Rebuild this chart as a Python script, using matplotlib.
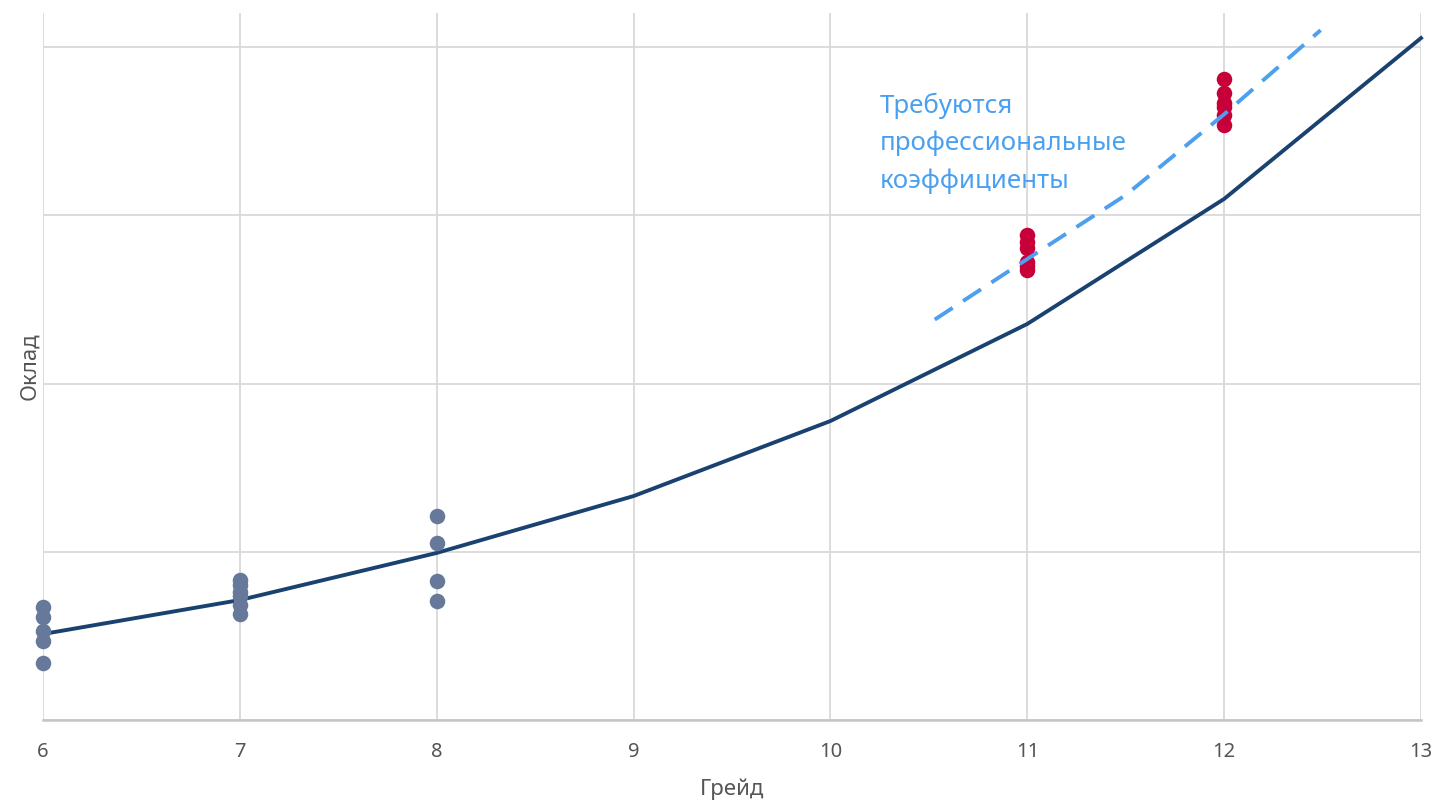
import matplotlib
matplotlib.use("Agg")
import matplotlib.pyplot as plt

plt.rcParams['font.family'] = ['Noto Sans', 'DejaVu Sans']

# Data
grades = [6, 7, 8, 9, 10, 11, 12, 13]
curve = [0.511, 0.713, 0.993, 1.331, 1.777, 2.354, 3.097, 4.053]

gray_x = [6, 6, 6, 6, 6, 7, 7, 7, 7, 7, 7, 8, 8, 8, 8]
gray_y = [0.672, 0.612, 0.529, 0.470, 0.339,
          0.832, 0.805, 0.761, 0.737, 0.683, 0.630,
          1.212, 1.052, 0.826, 0.707]

red_x = [11, 11, 11, 11, 11, 11, 12, 12, 12, 12, 12, 12]
red_y = [2.883, 2.841, 2.805, 2.722, 2.698, 2.675,
         3.810, 3.727, 3.668, 3.644, 3.596, 3.536]

dash_x = [10.53, 11, 11.5, 12, 12.49]
dash_y = [2.38, 2.74, 3.12, 3.60, 4.10]

yticks = [0, 1, 2, 3, 4]
annotation = "Требуются\nпрофессиональные\nкоэффициенты"

fig = plt.figure(figsize=(14.39, 8.06), dpi=100)
ax = fig.add_axes([43/1439, 1-720/806, (1421-43)/1439, (720-13)/806])

ax.set_xlim(6, 13)
ax.set_ylim(0, (720-13)/168.25)
ax.set_xticks(grades)
ax.set_xticklabels([str(g) for g in grades])
ax.set_yticks(yticks)
ax.set_yticklabels([])

ax.grid(True, color='#d9d9d9', linewidth=1.3, zorder=0)
ax.set_axisbelow(True)
for s in ['top', 'right', 'left']:
    ax.spines[s].set_visible(False)
ax.spines['bottom'].set_color('#c4c4c4')
ax.spines['bottom'].set_linewidth(1.8)
ax.tick_params(axis='both', length=0, labelsize=14.5, colors='#555555', pad=16)
ax.tick_params(axis='y', pad=0)

ax.plot(grades, curve, color='#1a4270', linewidth=2.8, zorder=3, clip_on=False)
ax.scatter(gray_x, gray_y, s=125, color='#66799a', zorder=4, clip_on=False, linewidths=0)
ax.scatter(red_x, red_y, s=125, color='#c8003a', zorder=4, clip_on=False, linewidths=0)
ax.plot(dash_x, dash_y, color='#4d9ff0', linewidth=2.8, dashes=(5.5, 3.2), zorder=5)

ax.text(10.25, 3.73, annotation, color='#4aa0f0', fontsize=18.6, va='top', ha='left',
        linespacing=1.62)

ax.set_xlabel("Грейд", fontsize=16, color='#555555', labelpad=12)
ax.set_ylabel("Оклад", fontsize=16, color='#555555', labelpad=2)

fig.savefig("out.png", dpi=100)
